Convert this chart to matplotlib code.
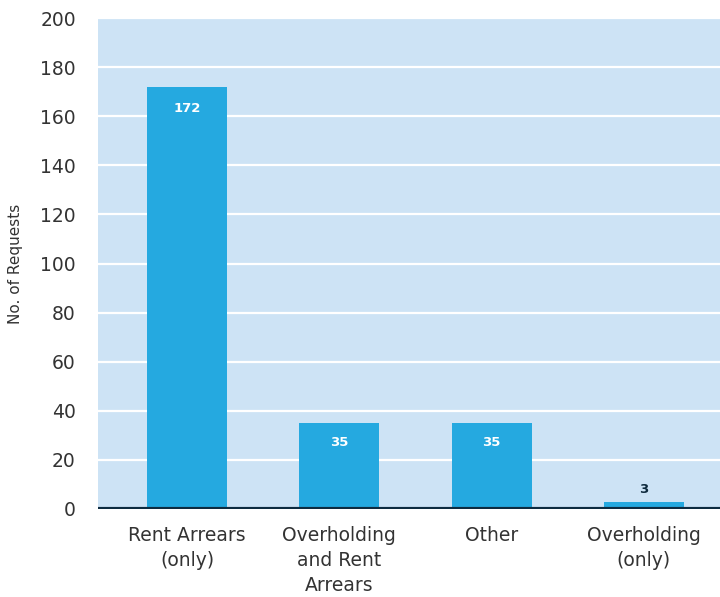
import matplotlib.pyplot as plt
from matplotlib.ticker import MultipleLocator

# Requests by type
categories = ["Rent Arrears\n(only)", "Overholding\nand Rent\nArrears", "Other", "Overholding\n(only)"]
requests = [172, 35, 35, 3]

bar_color = "#25a9e0"
bg_color = "#cde3f5"
text_color = "#333333"

plt.rcParams["font.family"] = ["DejaVu Sans"]

fig = plt.figure(figsize=(7.2, 5.97), dpi=100)
ax = fig.add_axes([98 / 720, 1 - 509 / 597, 1 - 98 / 720, 491 / 597])
ax.set_facecolor(bg_color)

x = range(len(categories))
bars = ax.bar(x, requests, width=0.525, color=bar_color, zorder=3)

# value labels: inside tall bars, above short ones
for rect, val in zip(bars, requests):
    cx = rect.get_x() + rect.get_width() / 2
    if val > 20:
        off = -16 if val > 100 else -14
        ax.annotate(str(val), (cx, val), xytext=(0, off), textcoords="offset points",
                    ha="center", va="center", color="white", fontsize=9.5,
                    fontweight="bold", zorder=4)
    else:
        ax.annotate(str(val), (cx, val), xytext=(0, 9), textcoords="offset points",
                    ha="center", va="center", color="#0e2a3d", fontsize=9.5,
                    fontweight="bold", zorder=4)

ax.set_ylim(0, 200)
ax.set_xlim(-0.584, 3.5)
ax.yaxis.set_major_locator(MultipleLocator(20))
ax.grid(axis="y", color="white", linewidth=1.6, zorder=1)
ax.axhline(0, color="#0d2b40", linewidth=3, zorder=5)

for s in ax.spines.values():
    s.set_visible(False)

ax.tick_params(axis="both", length=0, labelsize=13.5, colors=text_color)
ax.tick_params(axis="y", pad=16)
ax.tick_params(axis="x", pad=12)
ax.set_xticks(list(x))
ax.set_xticklabels(categories, linespacing=1.4, va="top")

ax.set_ylabel("No. of Requests", fontsize=11, color=text_color)
ax.yaxis.set_label_coords(-0.12, 0.5)

fig.savefig("out.png", dpi=100, facecolor="white")
